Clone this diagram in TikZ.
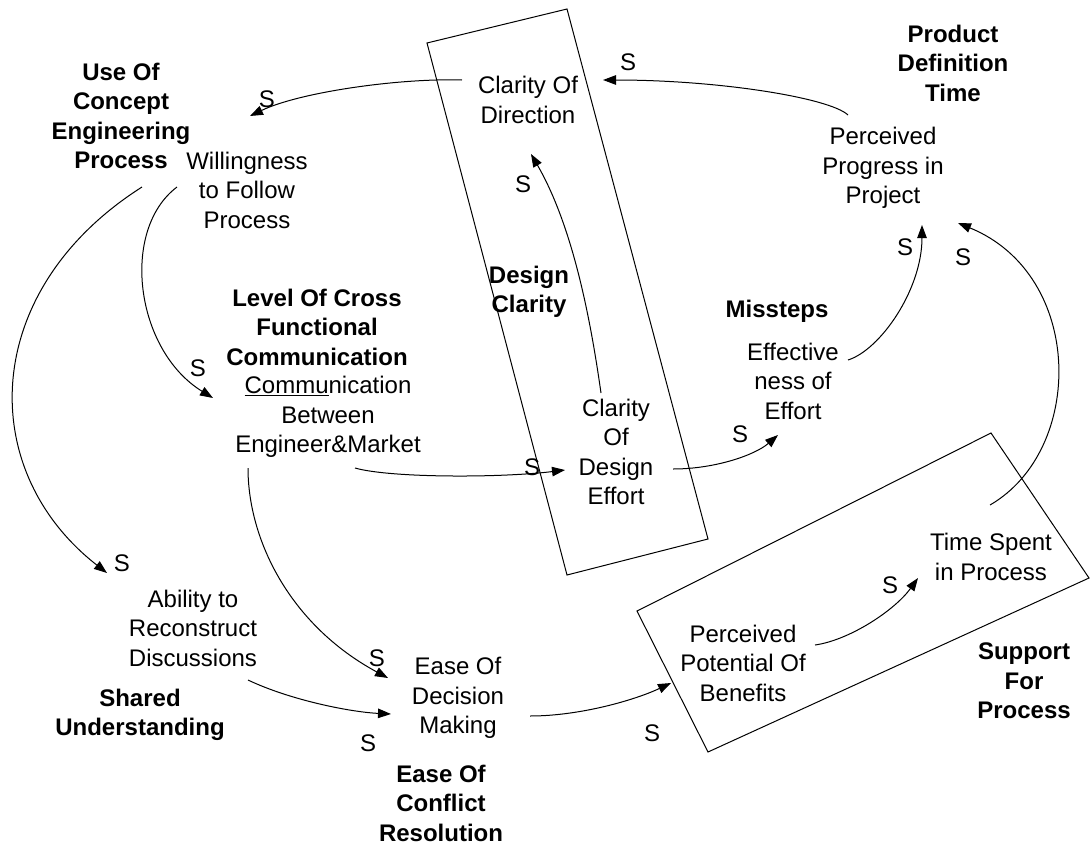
\documentclass[tikz,border=0pt]{standalone}
\usepackage{fontspec}
\setmainfont{Liberation Sans}
\usetikzlibrary{arrows.meta,calc}
\begin{document}
\begin{tikzpicture}[x=1pt,y=-1pt,
  every node/.style={inner sep=0pt, align=center, font=\fontsize{24}{29.5}\selectfont},
  loopname/.style={font=\fontsize{24}{29.5}\selectfont\bfseries},
  link/.style={line width=1pt, -{Triangle[length=13pt,width=9.5pt]}},
  frame/.style={line width=1pt}]
\useasboundingbox (0,0) rectangle (1090,846);

% frames
\draw[frame] (427,43) -- (567,9) -- (708,539) -- (567,575) -- cycle;
\draw[frame] (637,611) -- (991,433) -- (1089,578) -- (708,752) -- cycle;

% loop names
\node[loopname] (uoc) at (121,116) {Use Of\\Concept\\Engineering\\Process};
\node[loopname] (pdt) at (953,63) {Product\\Definition\\Time};
\node[loopname] (lcf) at (317,327) {Level Of Cross\\Functional\\Communication};
\node[loopname] (dc) at (529,292) {Design\\Clarity};
\node[loopname] (mis) at (777,311) {Missteps};
\node[loopname] (su) at (140,715) {Shared\\Understanding};
\node[loopname] (eocr) at (441,803) {Ease Of\\Conflict\\Resolution};
\node[loopname] (sfp) at (1024,681) {Support\\For\\Process};

% variables
\node (will) at (247,190) {Willingness\\to Follow\\Process};
\node (cod) at (528,100) {Clarity Of\\Direction};
\node (ppp) at (883,168) {Perceived\\Progress in\\Project};
\node (comm) at (328,417) {\underline{Commu}nication\\Between\\Engineer\&Market};
\node (cdde) at (616,452) {Clarity\\Of\\Design\\Effort};
\node (eff) at (793,381) {Effective\\ness of\\Effort};
\node (arc) at (193,628) {Ability to\\Reconstruct\\Discussions};
\node (eod) at (458,698) {Ease Of\\Decision\\Making};
\node (ppb) at (743,663) {Perceived\\Potential Of\\Benefits};
\node (tsp) at (991,557) {Time Spent\\in Process};

% links
\draw[link] ([shift={(-66,-20)}]cod.center) .. controls (400,78) and (300,92) .. ([shift={(3,-74)}]will.center);
\draw[link] ([shift={(-35,-53)}]ppp.center) .. controls (830,98) and (720,80) .. ([shift={(75,-20)}]cod.center);
\draw[link] ([shift={(-15,-59)}]cdde.center) .. controls (592,330) and (575,230) .. ([shift={(3,54)}]cod.center);
\draw[link] ([shift={(27,51)}]comm.center) .. controls (390,478) and (500,478) .. ([shift={(-51,18)}]cdde.center);
\draw[link] ([shift={(57,17)}]cdde.center) .. controls (715,469) and (755,455) .. ([shift={(-15,54)}]eff.center);
\draw[link] ([shift={(55,-21)}]eff.center) .. controls (880,350) and (922,290) .. ([shift={(39,57)}]ppp.center);
\draw[link] ([shift={(-1,-52)}]tsp.center) .. controls (1085,450) and (1085,275) .. ([shift={(75,55)}]ppp.center);
\draw[link] ([shift={(72,-18)}]ppb.center) .. controls (850,640) and (895,610) .. ([shift={(-73,21)}]tsp.center);
\draw[link] ([shift={(72,18)}]eod.center) .. controls (580,716) and (635,700) .. ([shift={(-72,20)}]ppb.center);
\draw[link] ([shift={(55,52)}]arc.center) .. controls (290,700) and (350,712) .. ([shift={(-67,16)}]eod.center);
\draw[link] ([shift={(-80,51)}]comm.center) .. controls (248,540) and (290,625) .. ([shift={(-70,-20)}]eod.center);
\draw[link] ([shift={(-70,-3)}]will.center) .. controls (120,230) and (135,350) .. ([shift={(-115,-19)}]comm.center);
\draw[link] ([shift={(-105,-3)}]will.center) .. controls (-20,290) and (-25,470) .. ([shift={(-86,-55)}]arc.center);

% signs
\node (s1) at (267,99) {S};
\node (s2) at (628,62) {S};
\node (s3) at (523,184) {S};
\node (s4) at (905,247) {S};
\node (s5) at (963,257) {S};
\node (s6) at (198,368) {S};
\node (s7) at (532,467) {S};
\node (s8) at (740,434) {S};
\node (s9) at (122,563) {S};
\node (s10) at (377,658) {S};
\node (s11) at (368,743) {S};
\node (s12) at (652,733) {S};
\node (s13) at (890,585) {S};
\end{tikzpicture}
\end{document}
